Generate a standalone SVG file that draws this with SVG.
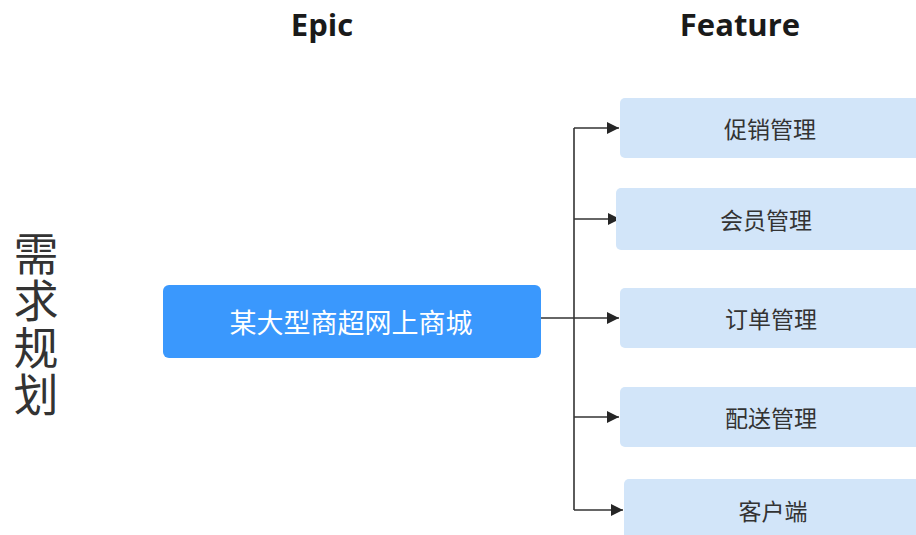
<svg xmlns="http://www.w3.org/2000/svg" width="916" height="535" viewBox="0 0 916 535">
<defs>
<marker id="arr" viewBox="0 0 10 10" refX="10" refY="5" markerWidth="16" markerHeight="12" markerUnits="userSpaceOnUse" orient="auto">
<path d="M0,0 L10,5 L0,10 z" fill="#262626"/>
</marker>
<style>
.hdr{font-family:"Open Sans","Liberation Sans",sans-serif;font-weight:bold;font-size:31px;fill:#1a1a1a;text-anchor:middle}
.feat{fill:#d2e5f9}
.ft{font-family:"Noto Sans CJK SC","Noto Sans",sans-serif;font-size:23px;fill:#333;text-anchor:middle;dominant-baseline:central}
.line{stroke:#333;stroke-width:1.6;fill:none}
.vt{font-family:"Noto Sans CJK SC",sans-serif;font-size:45px;fill:#333;writing-mode:vertical-rl;text-orientation:upright;letter-spacing:2px}
</style>
</defs>
<rect width="916" height="535" fill="#fff"/>
<text class="hdr" x="322" y="36">Epic</text>
<text class="hdr" x="740" y="36">Feature</text>
<g id="title">
<text class="vt" x="36" y="231">需求规划</text>
</g>
<g id="connectors">
<path class="line" d="M541,318 H574"/>
<path class="line" d="M574,128 V510"/>
<path class="line" d="M574,128 H619" marker-end="url(#arr)"/>
<path class="line" d="M574,219 H620" marker-end="url(#arr)"/>
<path class="line" d="M574,318 H619" marker-end="url(#arr)"/>
<path class="line" d="M574,417 H619" marker-end="url(#arr)"/>
<path class="line" d="M574,510 H623" marker-end="url(#arr)"/>
</g>
<g id="epic">
<rect x="163" y="285" width="378" height="73" rx="6" fill="#3a98fd"/>
<text class="ft" x="351" y="321" style="fill:#fff;font-size:27px">某大型商超网上商城</text>
</g>
<g id="f1">
<rect class="feat" x="620" y="98" width="310" height="60" rx="5"/>
<text class="ft" x="770" y="128">促销管理</text>
</g>
<g id="f2">
<rect class="feat" x="616" y="188" width="314" height="62" rx="5"/>
<text class="ft" x="766" y="219">会员管理</text>
</g>
<g id="f3">
<rect class="feat" x="620" y="288" width="310" height="60" rx="5"/>
<text class="ft" x="771" y="318">订单管理</text>
</g>
<g id="f4">
<rect class="feat" x="620" y="387" width="310" height="60" rx="5"/>
<text class="ft" x="771" y="417">配送管理</text>
</g>
<g id="f5">
<rect class="feat" x="624" y="479" width="310" height="70" rx="5"/>
<text class="ft" x="773" y="510">客户端</text>
</g>
</svg>
